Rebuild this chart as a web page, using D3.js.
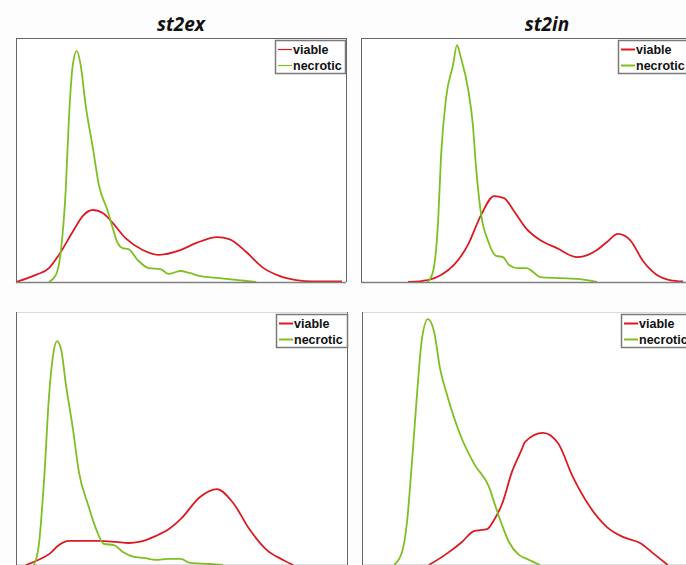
<!DOCTYPE html>
<html>
<head>
<meta charset="utf-8">
<script src="https://cdn.jsdelivr.net/npm/d3@7"></script>
<style>
  body { margin: 0; background: #fdfdfd; }
  svg { display: block; }
</style>
</head>
<body>
<div id="chart"></div>
<script>
// density curves, x = intensity (0-100 across the panel), y = density (0-100 of panel height)
const seriesNames = ["viable", "necrotic"];
const titles = ["st2ex", "st2in"];

const exTopViable = [[0,0],[6,2.9],[10,5.7],[13,11.1],[17.5,21.3],[20.2,27],[23.3,29.5],[26.3,28.3],[29.3,24.2],[33.2,18],[38.4,13.1],[43.2,11.1],[49.8,13.1],[54.7,16],[61,18.4],[64.6,17.6],[69.8,12.3],[74.6,6.1],[79.8,2.5],[84.9,0.8],[89.7,0.2],[98.8,0.2]];
const exTopNecrotic = [[10,0],[12.1,2.9],[13.6,12.7],[15.1,38.5],[16,66],[17.2,88.9],[18.4,94.7],[19.6,88.9],[21.1,72.5],[23.3,54.9],[25.1,39.8],[27.8,29.1],[29.3,22.1],[30.8,16],[32.3,13.9],[34.1,13.5],[36.9,9],[40.2,5.7],[43.8,5.3],[46.2,3.3],[49.8,4.5],[52.6,3.7],[55.6,2.5],[61.6,1.6],[72.8,0]];

const inTopViable = [[14.2,0],[20.2,0.8],[24.2,2.9],[28.1,7],[32.3,15.2],[36.3,27.5],[40.2,35.2],[43.2,34.4],[46.2,29.1],[49.8,22.1],[54.1,17.2],[59.2,13.9],[65.3,10.2],[71.3,13.1],[74.3,16.4],[77.6,19.7],[81.3,17.2],[85.2,8.6],[89.4,2.9],[93.3,0.8],[97.3,0.2]];
const inTopNecrotic = [[20.2,0],[21.8,4.5],[23.3,25],[24.2,52],[25.7,75.4],[27.8,88.9],[29,97.1],[30.2,91.8],[32.3,79.5],[33.8,64.3],[34.7,48],[36.3,27.5],[38.4,16.8],[40.8,10.7],[42.9,10.2],[44.7,7],[47.4,5.7],[50.1,5.7],[52,4.1],[54.1,2],[60.1,1.6],[66.2,1.2],[71.3,0]];

const exBottomViable = [[3,0],[6,1.6],[10,4.3],[13,7.9],[16,9.5],[20.2,9.5],[25.1,9.5],[30.2,9.1],[34.1,8.7],[37.2,9.1],[42.3,11.5],[46.2,14.2],[49.8,18.2],[55.6,26.9],[60.7,30],[65.6,24.5],[70.7,13.8],[75.8,5.9],[80.7,2],[83.7,0]];
const exBottomNecrotic = [[5.4,0],[6.9,7.9],[8.5,34],[10,67.2],[11.2,83],[12.4,88.5],[13.6,85.4],[15.1,71.1],[17.2,53.8],[19,36.8],[21.8,23.7],[24.2,14.2],[26.6,8.3],[29.6,7.9],[32.3,5.1],[35.6,3.2],[38.7,2.8],[42.3,2],[45.9,2.4],[49.8,2.4],[52.6,0.8],[58.6,0.4],[62.5,0]];

const inBottomViable = [[20.2,0],[25.1,4],[30.2,9.1],[33.8,13.4],[37.8,14.2],[39.9,17.8],[42.3,24.1],[45.3,36.8],[48.3,45.8],[49.2,48.6],[54.7,52.2],[59.2,48.2],[63.7,34.8],[68.9,22.9],[74,15],[78.8,11.1],[84,8.7],[87.9,4.7],[92.4,0]];
const inBottomNecrotic = [[9.7,0],[12.1,5.1],[13.6,17],[15.1,40.7],[16.6,67.2],[18.1,89.3],[19.9,97.2],[21.8,92.1],[23.6,77.5],[25.7,67.2],[30.2,49.8],[34.1,39.5],[38.4,30.8],[40.2,23.7],[42.3,15.8],[44.4,9.1],[47.4,4],[49.8,2.4],[53.8,0]];

const colors = { viable: "#dc1a22", necrotic: "#7fbf22" };

const width = 686, height = 565;

const svg = d3.select("#chart")
  .append("svg")
  .attr("width", width)
  .attr("height", height)
  .attr("viewBox", [0, 0, width, height]);

const panels = [
  { title: titles[0], titleX: 181, left: 16, top: 38, right: 346, bottom: 282, viable: exTopViable, necrotic: exTopNecrotic, legendX: 275, legendW: 70, keyW: 1.2, topStroke: "#666" },
  { title: titles[1], titleX: 547, left: 361, top: 38, right: 692, bottom: 282, viable: inTopViable, necrotic: inTopNecrotic, legendX: 618, legendW: 80, keyW: 2, topStroke: "#666" },
  { title: null, left: 16, top: 312, right: 347, bottom: 565, viable: exBottomViable, necrotic: exBottomNecrotic, legendX: 276, legendW: 71, keyW: 2, topStroke: "#dadada" },
  { title: null, left: 362, top: 312, right: 693, bottom: 565, viable: inBottomViable, necrotic: inBottomNecrotic, legendX: 621, legendW: 80, keyW: 2, topStroke: "#dadada" }
];

for (let p of panels) {
  let x = d3.scaleLinear().domain([0, 100]).range([p.left, p.right]);
  let y = d3.scaleLinear().domain([0, 100]).range([p.bottom, p.top]);

  let g = svg.append("g");

  // white plot area
  g.append("rect")
    .attr("x", p.left).attr("y", p.top)
    .attr("width", p.right - p.left).attr("height", p.bottom - p.top)
    .attr("fill", "#ffffff");

  let line = d3.line()
    .x(d => x(d[0]))
    .y(d => y(d[1]))
    .curve(d3.curveMonotoneX);

  // viable first, necrotic on top
  g.append("path")
    .datum(p.viable)
    .attr("fill", "none")
    .attr("stroke", colors.viable)
    .attr("stroke-width", 1.8)
    .attr("d", line);

  g.append("path")
    .datum(p.necrotic)
    .attr("fill", "none")
    .attr("stroke", colors.necrotic)
    .attr("stroke-width", 1.8)
    .attr("d", line);

  // frame edges
  g.append("line")
    .attr("x1", p.left).attr("x2", p.right)
    .attr("y1", p.top + 0.5).attr("y2", p.top + 0.5)
    .attr("stroke", p.topStroke);
  g.append("line")
    .attr("x1", p.left).attr("x2", p.right)
    .attr("y1", p.bottom + 0.5).attr("y2", p.bottom + 0.5)
    .attr("stroke", "#808080").attr("stroke-width", 1.5);
  g.append("line")
    .attr("x1", p.left + 0.5).attr("x2", p.left + 0.5)
    .attr("y1", p.top).attr("y2", p.bottom)
    .attr("stroke", "#666");
  g.append("line")
    .attr("x1", p.right + 0.5).attr("x2", p.right + 0.5)
    .attr("y1", p.top).attr("y2", p.bottom)
    .attr("stroke", "#666");

  if (p.title) {
    svg.append("text")
      .attr("x", p.titleX)
      .attr("y", p.top - 7)
      .attr("text-anchor", "middle")
      .attr("font-family", "'Open Sans', sans-serif")
      .attr("font-weight", "bold")
      .attr("font-style", "italic")
      .attr("font-size", 19)
      .attr("fill", "#111")
      .text(p.title);
  }

  // legend
  let lg = g.append("g")
    .attr("transform", `translate(${p.legendX},${p.top + 2})`);

  lg.append("rect")
    .attr("x", 0.5).attr("y", 0.5)
    .attr("width", p.legendW).attr("height", 33)
    .attr("fill", "#ffffff")
    .attr("stroke", "#7a7a7a")
    .attr("stroke-width", 1.5);

  seriesNames.forEach((name, i) => {
    let cy = 9.5 + i * 16;
    lg.append("line")
      .attr("x1", 3).attr("x2", 17)
      .attr("y1", cy).attr("y2", cy)
      .attr("stroke", colors[name])
      .attr("stroke-width", p.keyW);
    lg.append("text")
      .attr("x", 18)
      .attr("y", cy)
      .attr("dy", "0.35em")
      .attr("font-family", "'Liberation Sans', Arial, sans-serif")
      .attr("font-weight", "bold")
      .attr("font-size", 12.5)
      .attr("fill", "#111")
      .text(name);
  });
}
</script>
</body>
</html>
